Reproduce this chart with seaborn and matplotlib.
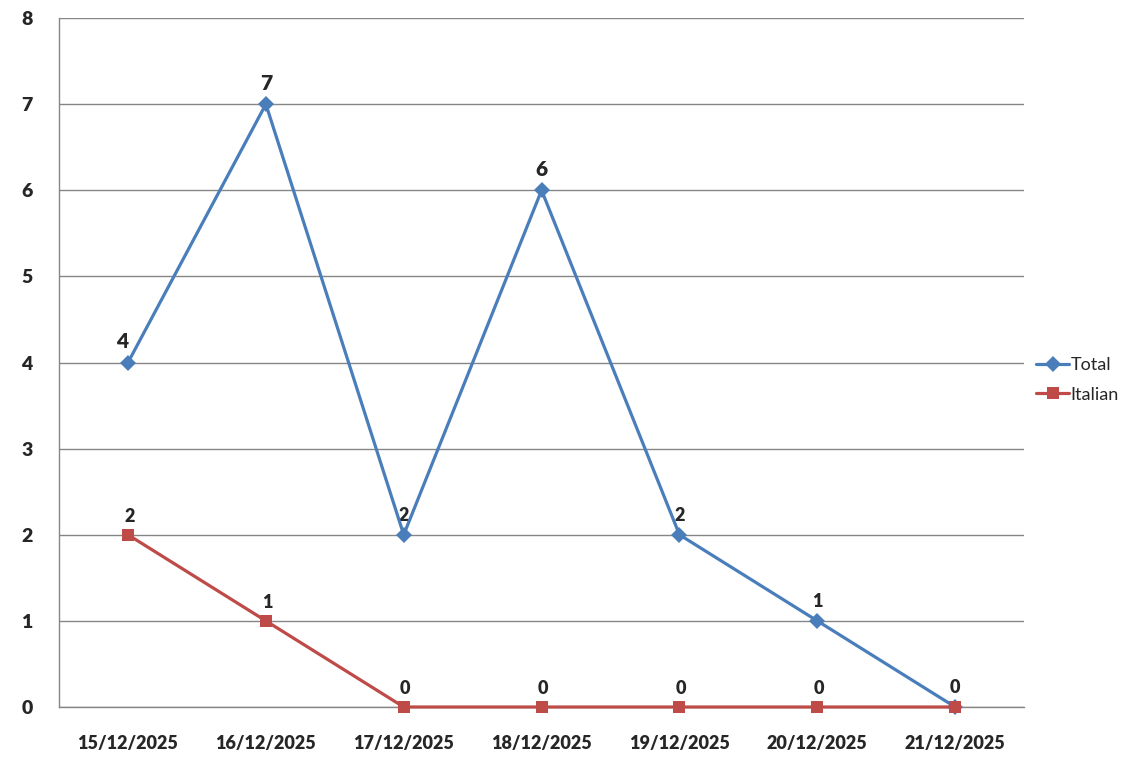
import pandas as pd
import seaborn as sns
import matplotlib.pyplot as plt

# chart data
dates = ['15/12/2025', '16/12/2025', '17/12/2025', '18/12/2025',
         '19/12/2025', '20/12/2025', '21/12/2025']
total = [4, 7, 2, 6, 2, 1, 0]
italian = [2, 1, 0, 0, 0, 0, 0]

df = pd.DataFrame({'date': dates * 2,
                   'count': total + italian,
                   'series': ['Total'] * len(dates) + ['Italian'] * len(dates)})
df['pos'] = list(range(len(dates))) * 2

sns.set_style('white')
plt.rcParams['font.family'] = ['Lato', 'DejaVu Sans']

colors = {'Total': '#4A7EBB', 'Italian': '#BE4B48'}

fig = plt.figure(figsize=(11.36, 7.64), dpi=100)
ax = fig.add_axes([0.052, 0.0746, 0.8495, 0.9018])

sns.lineplot(data=df, x='pos', y='count', hue='series', style='series',
             palette=colors, markers={'Total': 'D', 'Italian': 's'},
             dashes=False, linewidth=2.3, markersize=8, markeredgewidth=0,
             ax=ax)
# markers sitting on the zero line should not be cut in half
for line in ax.lines:
    line.set_clip_on(False)
    line.set_zorder(5)

# data labels
for i, v in enumerate(total):
    ax.annotate(str(v), (i, v), xytext=(-4 if i == 0 else 0, 8),
                textcoords='offset points', ha='center', va='bottom',
                fontsize=15 if v >= 4 else 13, fontweight='heavy')
for i, v in enumerate(italian):
    if i == len(dates) - 1:
        continue
    ax.annotate(str(v), (i, v), xytext=(1, 7), textcoords='offset points',
                ha='center', va='bottom', fontsize=13, fontweight='heavy')

ax.set_xlim(-0.5, len(dates) - 0.5)
ax.set_ylim(0, 8)
ax.set_yticks(range(0, 9))
ax.set_yticklabels([str(v) for v in range(0, 9)], fontsize=14, fontweight='heavy')
ax.set_xticks(range(len(dates)))
ax.set_xticklabels(dates, fontsize=13, fontweight='heavy')
ax.set_xticks([i - 0.5 for i in range(len(dates) + 1)], minor=True)
ax.tick_params(axis='x', which='major', length=0, pad=20)
ax.tick_params(axis='x', which='minor', length=8, color='#868686', width=1, direction='out')
ax.tick_params(axis='y', length=7, color='#868686', width=1, direction='out', pad=12)
ax.set_xlabel('')
ax.set_ylabel('')

ax.grid(axis='y', color='#868686', linewidth=1)
ax.set_axisbelow(True)
for side in ['top', 'right']:
    ax.spines[side].set_visible(False)
for side in ['left', 'bottom']:
    ax.spines[side].set_color('#868686')
    ax.spines[side].set_linewidth(1)

handles, labels = ax.get_legend_handles_labels()
ax.legend(handles, labels, loc='center left', bbox_to_anchor=(0.996, 0.475),
          frameon=False, fontsize=13, handlelength=1.8, handletextpad=0.1,
          labelspacing=0.75)

fig.savefig('out.png', dpi=100)
